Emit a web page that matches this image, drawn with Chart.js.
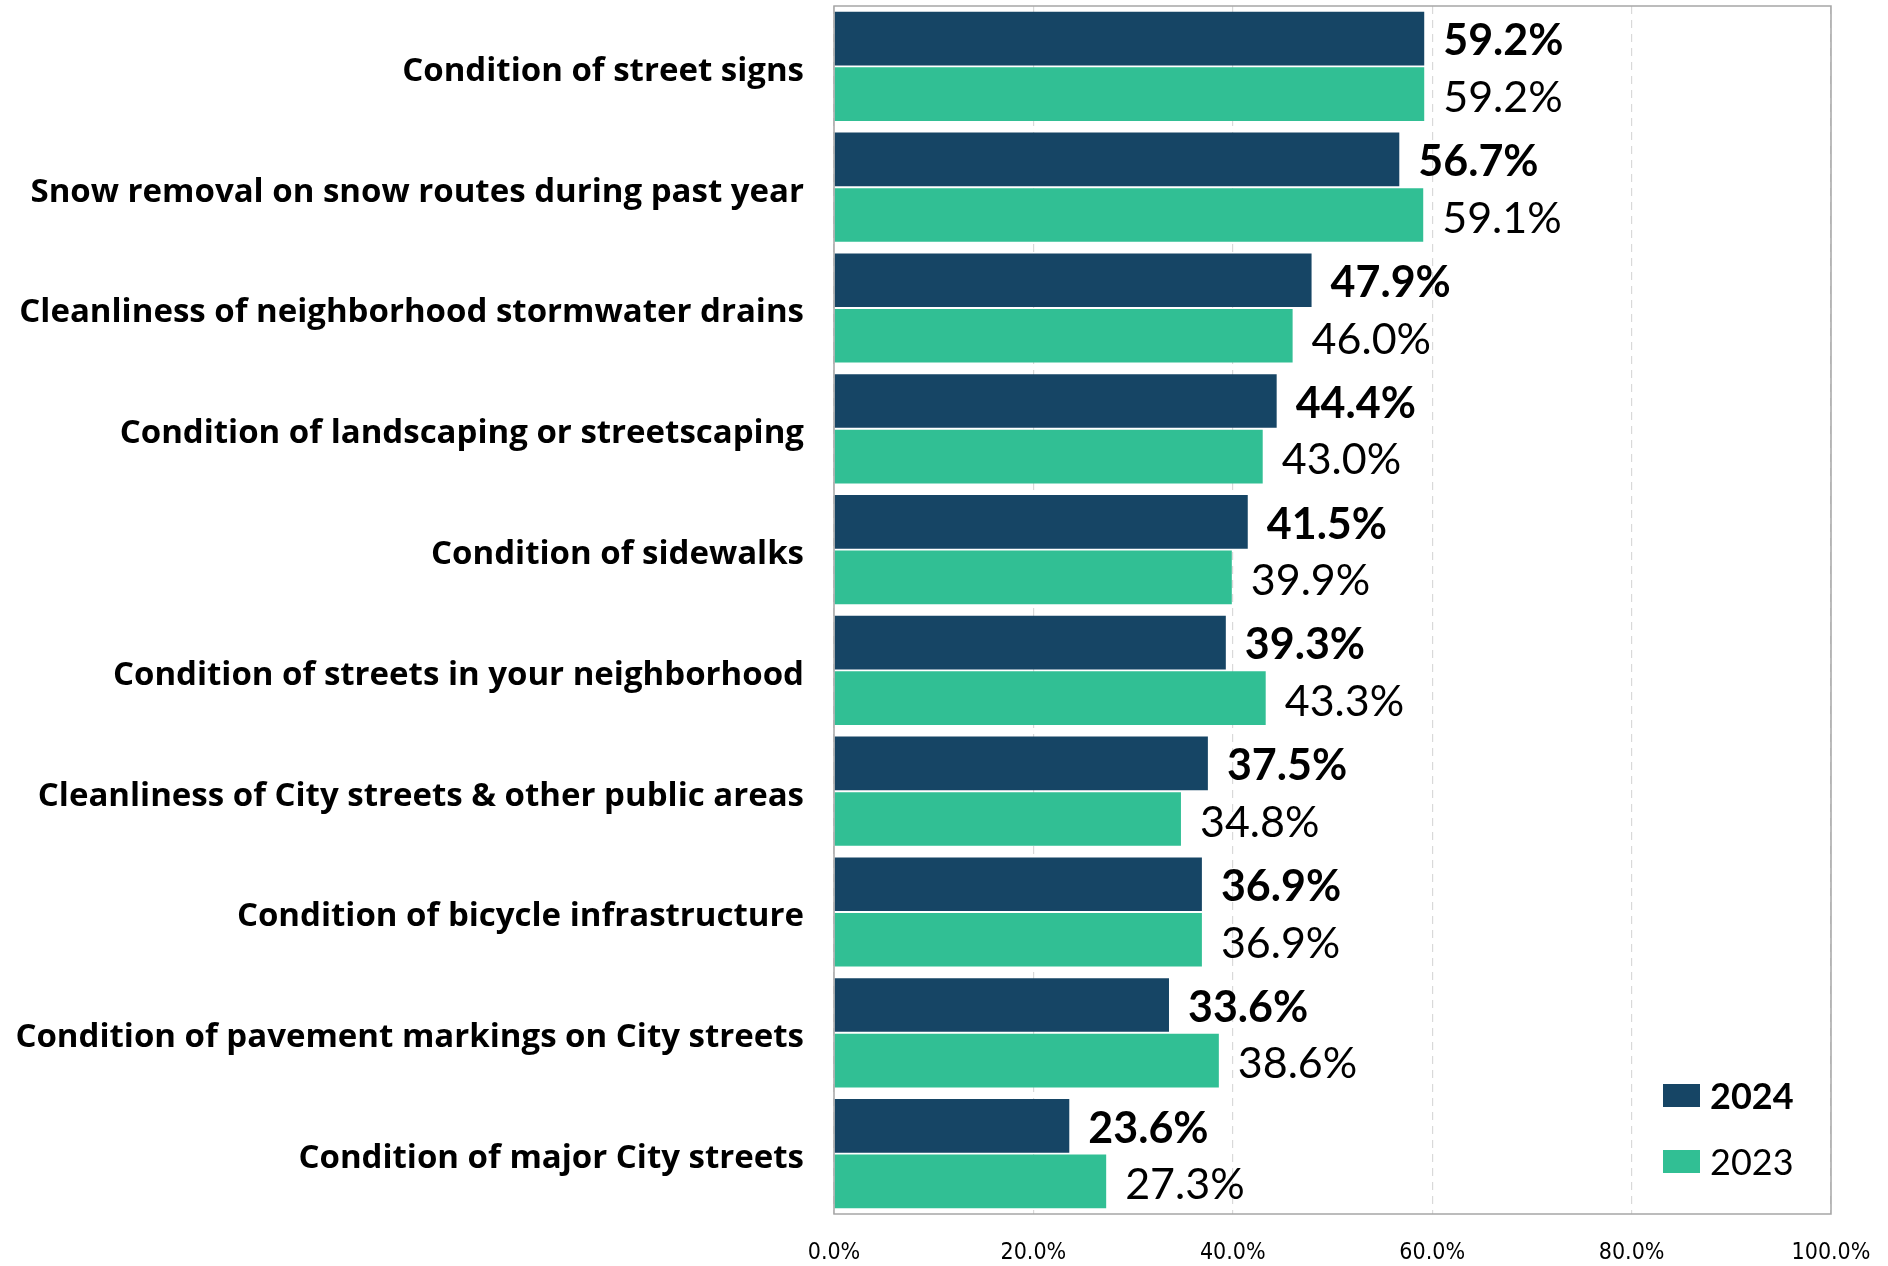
<!DOCTYPE html>
<html>
<head>
<meta charset="utf-8">
<script src="https://cdn.jsdelivr.net/npm/chart.js@4.4.0/dist/chart.umd.min.js"></script>
<style>
  html, body { margin: 0; padding: 0; background: #ffffff; }
  #wrap { width: 1888px; height: 1266px; }
</style>
</head>
<body>
<div id="wrap"><canvas id="c" width="1888" height="1266"></canvas></div>
<script>
const categories = [
  "Condition of street signs",
  "Snow removal on snow routes during past year",
  "Cleanliness of neighborhood stormwater drains",
  "Condition of landscaping or streetscaping",
  "Condition of sidewalks",
  "Condition of streets in your neighborhood",
  "Cleanliness of City streets & other public areas",
  "Condition of bicycle infrastructure",
  "Condition of pavement markings on City streets",
  "Condition of major City streets"
];
const values2024 = [59.2, 56.7, 47.9, 44.4, 41.5, 39.3, 37.5, 36.9, 33.6, 23.6];
const values2023 = [59.2, 59.1, 46.0, 43.0, 39.9, 43.3, 34.8, 36.9, 38.6, 27.3];
const seriesLabels = ["2024", "2023"];
const xTicks = [0, 20, 40, 60, 80, 100];

const NAVY = "#164565";
const GREEN = "#31BF94";
const LABEL_FONT = "'Open Sans', Lato, sans-serif";
const VAL_FONT = "Lato, 'Open Sans', sans-serif";
const TICK_FONT = "'Liberation Sans Narrow', 'DejaVu Sans Condensed', sans-serif";

const frameAndLabels = {
  id: "frameAndLabels",
  afterDatasetsDraw(chart) {
    const ctx = chart.ctx;
    const a = chart.chartArea;
    ctx.save();
    // frame
    ctx.strokeStyle = "#a6a6a6";
    ctx.lineWidth = 1.5;
    ctx.strokeRect(a.left, a.top, a.right - a.left, a.bottom - a.top);
    // value labels
    chart.data.datasets.forEach((ds, di) => {
      const meta = chart.getDatasetMeta(di);
      ctx.font = (di === 0 ? "bold " : "") + "43px " + VAL_FONT;
      ctx.fillStyle = "#000000";
      ctx.textAlign = "left";
      ctx.textBaseline = "middle";
      meta.data.forEach((bar, i) => {
        ctx.fillText(ds.data[i].toFixed(1) + "%", bar.x + 19, bar.y + 3 + di);
      });
    });
    // legend (inside, bottom-right)
    const items = [
      { text: seriesLabels[0], color: NAVY, bold: true, y: 1096 },
      { text: seriesLabels[1], color: GREEN, bold: false, y: 1162 }
    ];
    items.forEach(it => {
      ctx.fillStyle = it.color;
      ctx.fillRect(1663, it.y - 12, 37, 23);
      ctx.fillStyle = "#000000";
      ctx.font = (it.bold ? "bold " : "") + "36px " + VAL_FONT;
      ctx.textAlign = "left";
      ctx.textBaseline = "middle";
      ctx.fillText(it.text, 1710, it.y + 1);
    });
    ctx.restore();
  }
};

new Chart(document.getElementById("c"), {
  type: "bar",
  data: {
    labels: categories,
    datasets: [
      { label: seriesLabels[0], data: values2024, backgroundColor: NAVY, borderWidth: 0,
        categoryPercentage: 0.92, barPercentage: 0.965 },
      { label: seriesLabels[1], data: values2023, backgroundColor: GREEN, borderWidth: 0,
        categoryPercentage: 0.92, barPercentage: 0.965 }
    ]
  },
  options: {
    indexAxis: "y",
    responsive: false,
    animation: false,
    layout: { padding: { left: 0, right: 57, top: 6, bottom: 0 } },
    plugins: { legend: { display: false }, tooltip: { enabled: false } },
    scales: {
      x: {
        min: 0, max: 100,
        afterBuildTicks(scale) { scale.ticks = xTicks.map(v => ({ value: v })); },
        afterFit(scale) { scale.height = 52; scale.paddingLeft = 0; scale.paddingRight = 0; },
        grid: {
          display: true, drawTicks: false, color: "#d9d9d9", lineWidth: 1.2
        },
        border: { display: false, dash: [8, 6] },
        ticks: {
          padding: 25,
          color: "#000000",
          font: { family: TICK_FONT, size: 23 },
          callback: v => Number(v).toFixed(1) + "%"
        }
      },
      y: {
        afterFit(scale) { scale.width = 834; scale.paddingTop = 0; scale.paddingBottom = 0; },
        grid: { display: false, drawTicks: false },
        border: { display: false },
        ticks: {
          padding: 30,
          labelOffset: 5,
          color: "#000000",
          font: { family: LABEL_FONT, size: 33, weight: "bold" }
        }
      }
    }
  },
  plugins: [frameAndLabels]
});
</script>
</body>
</html>
